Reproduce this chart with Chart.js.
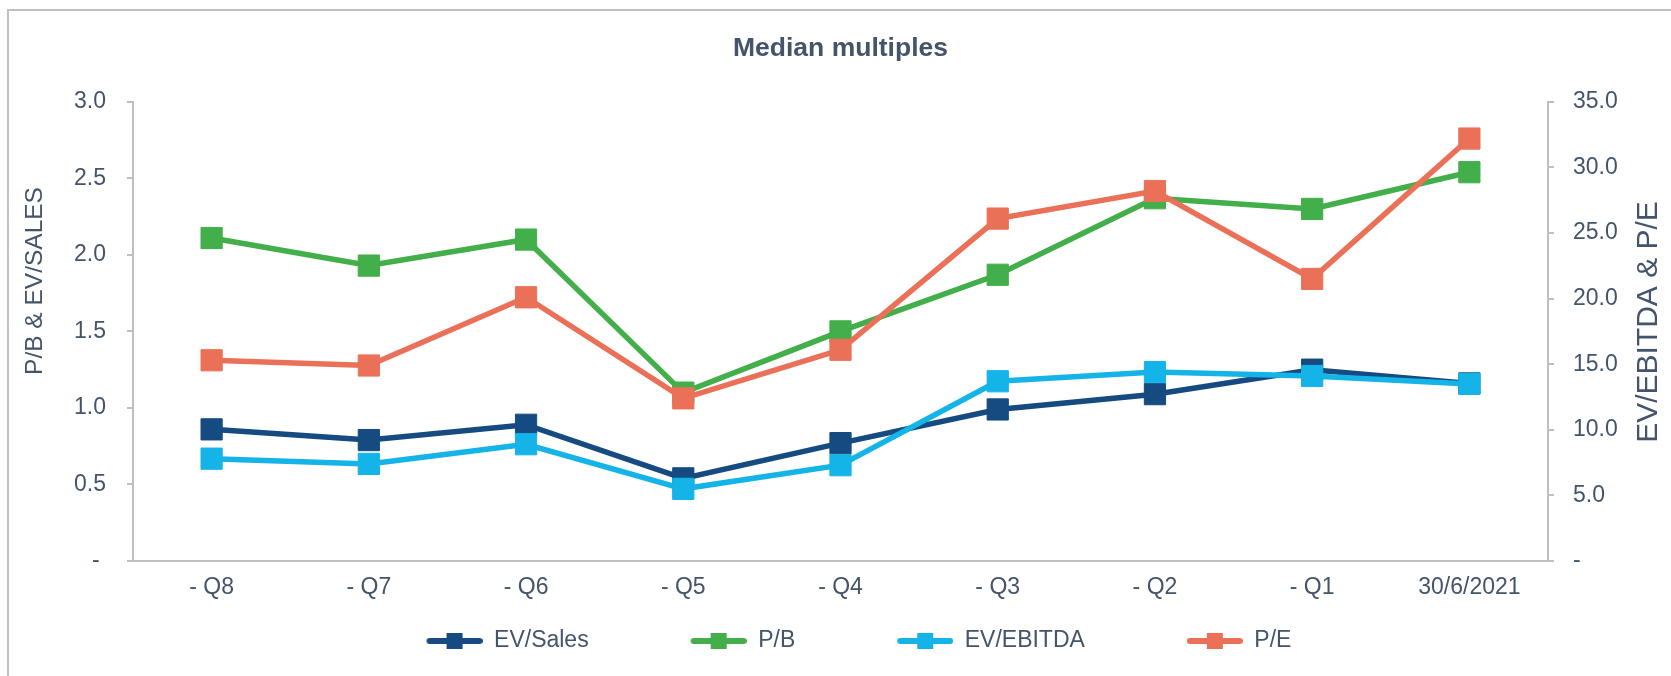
<!DOCTYPE html>
<html lang="en">
<head>
    <meta charset="UTF-8">
    <title>Median multiples</title>
    <style>
        body {
            margin: 0;
            background: white;
            overflow: hidden;
        }
        .frame {
            position: absolute;
            left: 7px;
            top: 9px;
            width: 1700px;
            height: 700px;
            border-top: 2px solid #c0c0c0;
            border-left: 2px solid #c0c0c0;
        }
        .box {
            position: absolute;
            left: 0;
            top: 0;
            width: 1671px;
            height: 676px;
        }
    </style>
</head>
<body>
    <div class="frame"></div>
    <div class="box"><canvas id="grafico"></canvas></div>

    <script src="https://cdn.jsdelivr.net/npm/chart.js"></script>
    <script>
        const labels = ['- Q8', '- Q7', '- Q6', '- Q5', '- Q4', '- Q3', '- Q2', '- Q1', '30/6/2021'];
        const evSales = [0.86, 0.79, 0.89, 0.54, 0.77, 0.99, 1.09, 1.25, 1.16];
        const pb = [2.11, 1.93, 2.10, 1.10, 1.50, 1.87, 2.37, 2.30, 2.54];
        const evEbitda = [7.8, 7.4, 8.9, 5.5, 7.3, 13.7, 14.4, 14.1, 13.5];
        const pe = [15.3, 14.9, 20.1, 12.4, 16.1, 26.1, 28.2, 21.5, 32.2];
        const leftTicks = [0, 0.5, 1.0, 1.5, 2.0, 2.5, 3.0];
        const rightTicks = [0, 5, 10, 15, 20, 25, 30, 35];

        const cores = ['#154b80', '#42af4a', '#14b4e8', '#eb7058'];
        const texto = '#44546a';
        const cinza = '#bfbfbf';
        const fonte = 'Liberation Sans, Arial, sans-serif';

        // legend icon: transparent gap on the left, then line with a square
        function iconeLegenda(cor) {
            const c = document.createElement('canvas');
            c.width = 148;
            c.height = 18;
            const g = c.getContext('2d');
            g.strokeStyle = cor;
            g.lineWidth = 6;
            g.lineCap = 'round';
            g.beginPath();
            g.moveTo(95, 9);
            g.lineTo(145, 9);
            g.stroke();
            g.fillStyle = cor;
            g.fillRect(112, 1, 16, 16);
            return c;
        }

        function rotulo(v) {
            return v === 0 ? '- ' : v.toFixed(1);
        }

        // both axis titles read bottom-up
        const titulosEixos = {
            id: 'titulosEixos',
            afterDraw(chart) {
                const ctx = chart.ctx;
                ctx.save();
                ctx.fillStyle = texto;
                ctx.textAlign = 'center';
                ctx.textBaseline = 'middle';
                ctx.font = '24.5px ' + fonte;
                ctx.translate(35, 281);
                ctx.rotate(-Math.PI / 2);
                ctx.fillText('P/B & EV/SALES', 0, 0);
                ctx.restore();

                ctx.save();
                ctx.fillStyle = texto;
                ctx.textAlign = 'center';
                ctx.textBaseline = 'middle';
                ctx.font = '30px ' + fonte;
                ctx.translate(1649, 322);
                ctx.rotate(-Math.PI / 2);
                ctx.fillText('EV/EBITDA & P/E', 0, 0);
                ctx.restore();
            }
        };

        function serie(nome, dados, cor, eixo, ordem) {
            return {
                label: nome,
                data: dados,
                yAxisID: eixo,
                order: ordem,
                borderColor: cor,
                backgroundColor: cor,
                borderWidth: 5.5,
                pointStyle: 'rect',
                pointRadius: 15,
                pointHoverRadius: 15,
                pointBorderWidth: 1,
                pointBackgroundColor: cor,
                pointBorderColor: cor,
                tension: 0
            };
        }

        const ctx = document.getElementById('grafico').getContext('2d');
        new Chart(ctx, {
            type: 'line',
            data: {
                labels: labels,
                datasets: [
                    serie('EV/Sales', evSales, cores[0], 'y', 4),
                    serie('P/B', pb, cores[1], 'y', 3),
                    serie('EV/EBITDA', evEbitda, cores[2], 'y2', 2),
                    serie('P/E', pe, cores[3], 'y2', 1)
                ]
            },
            options: {
                responsive: true,
                maintainAspectRatio: false,
                animation: false,
                layout: {
                    padding: { left: 0, right: 45, top: 0, bottom: 13.5 }
                },
                plugins: {
                    title: {
                        display: true,
                        fullSize: false,
                        text: 'Median multiples',
                        color: texto,
                        font: { family: fonte, size: 26.5, weight: 'bold' },
                        padding: { top: 33, bottom: 37 }
                    },
                    legend: {
                        position: 'bottom',
                        labels: {
                            color: texto,
                            font: { family: fonte, size: 23 },
                            usePointStyle: true,
                            pointStyleWidth: 148,
                            padding: 10,
                            sort: (a, b) => a.datasetIndex - b.datasetIndex,
                            generateLabels(chart) {
                                const itens = Chart.defaults.plugins.legend.labels.generateLabels(chart);
                                itens.forEach(it => {
                                    it.pointStyle = iconeLegenda(cores[it.datasetIndex]);
                                });
                                return itens;
                            }
                        }
                    },
                    tooltip: { enabled: false }
                },
                scales: {
                    x: {
                        offset: true,
                        grid: { display: false, drawTicks: false },
                        border: { display: true, color: cinza, width: 2 },
                        ticks: {
                            color: texto,
                            font: { family: fonte, size: 23 },
                            padding: 13,
                            maxRotation: 0,
                            autoSkip: false
                        },
                        afterFit(scale) { scale.height = 58.5; }
                    },
                    y: {
                        position: 'left',
                        min: leftTicks[0],
                        max: leftTicks[leftTicks.length - 1],
                        afterBuildTicks(scale) {
                            scale.ticks = leftTicks.map(v => ({ value: v }));
                        },
                        grid: {
                            drawOnChartArea: false,
                            drawTicks: true,
                            tickLength: 6,
                            color: cinza,
                            lineWidth: 2
                        },
                        border: { display: true, color: cinza, width: 2 },
                        ticks: {
                            color: texto,
                            font: { family: fonte, size: 23 },
                            padding: 21,
                            callback: v => rotulo(v)
                        },
                        afterFit(scale) { scale.width = 133; }
                    },
                    y2: {
                        position: 'right',
                        min: rightTicks[0],
                        max: rightTicks[rightTicks.length - 1],
                        afterBuildTicks(scale) {
                            scale.ticks = rightTicks.map(v => ({ value: v }));
                        },
                        grid: {
                            drawOnChartArea: false,
                            drawTicks: true,
                            tickLength: 6,
                            color: cinza,
                            lineWidth: 2
                        },
                        border: { display: true, color: cinza, width: 2 },
                        ticks: {
                            color: texto,
                            font: { family: fonte, size: 23 },
                            padding: 19,
                            callback: v => rotulo(v)
                        },
                        afterFit(scale) { scale.width = 78; }
                    }
                }
            },
            plugins: [titulosEixos]
        });
    </script>
</body>
</html>
